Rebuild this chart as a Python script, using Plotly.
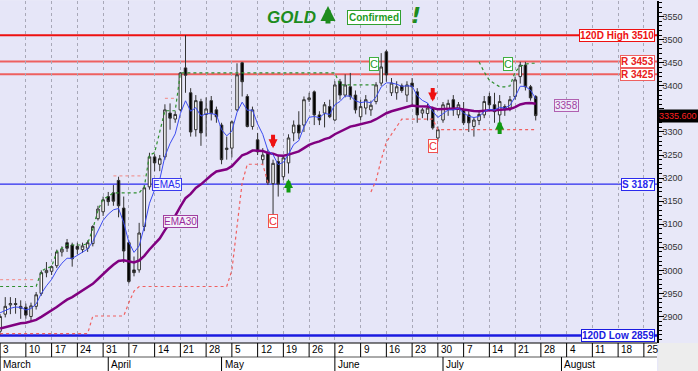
import plotly.graph_objects as go
import pandas as pd

# ---------------- data ----------------
dates = pd.bdate_range("2025-03-03", "2025-07-25").strftime("%Y-%m-%d").tolist()

opens = [2868, 2905, 2925, 2928, 2922, 2920, 2900, 2922, 2950, 2995,
         2998, 3010, 3040, 3060, 3055, 3052, 3045, 3048, 3058, 3112,
         3127, 3160, 3168, 3195, 3135, 3060, 3001, 3001, 3095, 3181,
         3246, 3230, 3246, 3341, 3328, 3348, 3439, 3385, 3305, 3366,
         3338, 3368, 3348, 3315, 3262, 3265, 3348, 3450, 3377, 3312,
         3283, 3240, 3254, 3188, 3236, 3203, 3233, 3298, 3315, 3315,
         3370, 3387, 3337, 3341, 3355, 3326, 3409, 3380, 3398, 3380,
         3333, 3352, 3348, 3366, 3406, 3474, 3385, 3385, 3400, 3380,
         3406, 3387, 3341, 3340, 3352, 3287, 3326, 3350, 3370, 3337,
         3348, 3337, 3312, 3325, 3337, 3377, 3359, 3337, 3355, 3352,
         3377, 3420, 3445, 3398, 3377]
highs = [2905, 2942, 2942, 2940, 2935, 2928, 2930, 2953, 3000, 3018,
         3010, 3045, 3052, 3068, 3060, 3060, 3060, 3065, 3098, 3140,
         3160, 3170, 3185, 3203, 3160, 3065, 3030, 3103, 3185, 3255,
         3252, 3250, 3360, 3362, 3345, 3430, 3510, 3395, 3380, 3372,
         3375, 3378, 3355, 3320, 3290, 3325, 3449, 3452, 3382, 3355,
         3298, 3265, 3262, 3240, 3250, 3250, 3295, 3325, 3345, 3377,
         3385, 3390, 3345, 3365, 3370, 3410, 3415, 3425, 3428, 3390,
         3370, 3380, 3368, 3408, 3471, 3478, 3417, 3410, 3405, 3410,
         3417, 3395, 3352, 3362, 3355, 3312, 3365, 3370, 3380, 3365,
         3365, 3345, 3332, 3345, 3378, 3385, 3385, 3380, 3360, 3378,
         3420, 3452, 3452, 3402, 3380]
lows = [2860, 2898, 2905, 2906, 2895, 2895, 2888, 2915, 2945, 2985,
        2990, 3005, 3030, 3040, 3008, 3035, 3038, 3040, 3052, 3108,
        3118, 3140, 3140, 3115, 3016, 2972, 2987, 2995, 3085, 3175,
        3215, 3215, 3240, 3305, 3320, 3345, 3385, 3290, 3290, 3270,
        3290, 3325, 3320, 3230, 3240, 3245, 3345, 3377, 3310, 3305,
        3250, 3230, 3185, 3122, 3160, 3195, 3210, 3280, 3285, 3300,
        3365, 3315, 3315, 3310, 3330, 3324, 3370, 3375, 3370, 3340,
        3325, 3338, 3335, 3360, 3400, 3409, 3378, 3370, 3385, 3365,
        3355, 3320, 3330, 3325, 3305, 3279, 3320, 3335, 3335, 3330,
        3315, 3300, 3290, 3315, 3330, 3350, 3320, 3315, 3335, 3345,
        3370, 3405, 3390, 3368, 3325]
closes = [2900, 2922, 2928, 2926, 2918, 2903, 2923, 2947, 2995, 3000,
          3008, 3040, 3046, 3048, 3025, 3046, 3053, 3060, 3095, 3133,
          3153, 3149, 3150, 3140, 3042, 2976, 2995, 3081, 3179, 3246,
          3233, 3242, 3348, 3330, 3338, 3428, 3423, 3300, 3368, 3298,
          3350, 3340, 3333, 3240, 3265, 3322, 3424, 3409, 3312, 3348,
          3257, 3250, 3190, 3232, 3187, 3244, 3287, 3315, 3298, 3370,
          3374, 3337, 3326, 3359, 3333, 3402, 3380, 3402, 3377, 3348,
          3355, 3370, 3358, 3402, 3441, 3424, 3406, 3398, 3390, 3402,
          3398, 3337, 3348, 3352, 3309, 3305, 3359, 3362, 3348, 3359,
          3320, 3320, 3326, 3338, 3366, 3359, 3344, 3366, 3348, 3370,
          3413, 3445, 3398, 3374, 3335.6]

ema5_seed = 2912
ema30_seed = 2872

red_stop = ([2863] * 18 + [2901] * 6 + [2901, 2930, 2955] + [2965] * 18
            + [3000, 3090, 3190] + [3230] * 4 + [3190] + [None] * 19
            + [3170, 3195, 3240, 3278, 3295, 3312] + [3328] * 7 + [3305] * 20)
green_stop = ([2965] * 8
              + [2998, 3005, 3008, 3040, 3048, 3055, 3055, 3055, 3055, 3058, 3090, 3130, 3155, 3160]
              + [3168] * 6 + [3181, 3250, 3255, 3300] + [3346] * 3 + [3428] * 31
              + [3402] * 8 + [None] * 19
              + [3452, 3430, 3412, 3404, 3398, 3398, 3400, 3430, 3442, 3447, 3449, 3449])
pink_stop = [2980] * 8 + [None] * 14 + [3205] * 7 + [None] * 3 + [3373] * 3 + [None] * 70

levels = [3510, 3453, 3425, 3187, 2859]
level_labels = ["120D High 3510", "R 3453", "R 3425", "S 3187", "120D Low 2859"]
level_colors = ["#ee1111", "#ee6060", "#ee6060", "#2a2aee", "#1a1ae0"]
level_text_colors = ["#ee1111", "#e82020", "#e82020", "#2a2aee", "#1a1ae0"]
level_widths = [2, 2, 2, 1.2, 2.5]

y_ticks = list(range(2900, 3551, 50))
y_tick_text = ["" if v == 3350 else str(v) for v in y_ticks]

last_price = 3335.6
ema30_label = 3358

green_c = [("2025-06-12", 3447), ("2025-07-18", 3447)]
red_c = [("2025-05-15", 3106), ("2025-06-27", 3270)]
down_arrows = [("2025-05-15", 3265), ("2025-06-27", 3366)]
up_arrows = [("2025-05-20", 3198), ("2025-07-16", 3325)]

axis_days = pd.bdate_range("2025-03-03", "2025-08-29")
month_names = ["March", "April", "May", "June", "July", "August"]

# ---------------- helpers ----------------
pos = {d.strftime("%Y-%m-%d"): i for i, d in enumerate(axis_days)}
x = [pos[d] for d in dates]


def ema(values, span, seed):
    a = 2.0 / (span + 1)
    out, prev = [], seed
    for v in values:
        prev = prev + a * (v - prev)
        out.append(prev)
    return out


ema5 = ema(closes, 5, ema5_seed)
ema30 = ema(closes, 30, ema30_seed)

mondays = [i for i, d in enumerate(axis_days) if d.weekday() == 0]
monday_days = [axis_days[i].day for i in mondays]
month_starts = []
seen = set()
for i, d in enumerate(axis_days):
    if d.month not in seen:
        seen.add(d.month)
        month_starts.append(i)

FONT = "Liberation Sans, Arial, sans-serif"
PH = 342.0  # plot height px
row1 = -14 / PH
row2 = -28 / PH

fig = go.Figure()

fig.add_trace(go.Scatter(x=x, y=pink_stop, mode="lines",
                         line=dict(color="#f09a9a", width=1.2, dash="dot"),
                         hoverinfo="skip", showlegend=False))
fig.add_trace(go.Scatter(x=x, y=red_stop, mode="lines",
                         line=dict(color="#f06060", width=1.2, dash="dot"),
                         hoverinfo="skip", showlegend=False))
fig.add_trace(go.Scatter(x=x, y=green_stop, mode="lines",
                         line=dict(color="#2f8f2f", width=1.2, dash="dot"),
                         hoverinfo="skip", showlegend=False))
fig.add_trace(go.Scatter(x=x, y=ema30, mode="lines",
                         line=dict(color="#800080", width=2.5),
                         hoverinfo="skip", showlegend=False))
fig.add_trace(go.Scatter(x=x, y=ema5, mode="lines",
                         line=dict(color="#3c4cf0", width=1),
                         hoverinfo="skip", showlegend=False))
fig.add_trace(go.Candlestick(
    x=x, open=opens, high=highs, low=lows, close=closes,
    increasing=dict(fillcolor="white", line=dict(color="#333333", width=1)),
    decreasing=dict(fillcolor="black", line=dict(color="#333333", width=1)),
    whiskerwidth=0, hoverinfo="skip", showlegend=False))

shapes = []
annotations = []

# level lines + labels
for v, lab, col, tcol, w in zip(levels, level_labels, level_colors, level_text_colors, level_widths):
    shapes.append(dict(type="line", xref="paper", x0=0, x1=1, yref="y", y0=v, y1=v,
                       line=dict(color=col, width=w), layer="below"))
    annotations.append(dict(xref="paper", x=0.997, xanchor="right", yref="y", y=v,
                            yanchor="middle", text="<b>%s</b>" % lab, showarrow=False,
                            font=dict(family=FONT, size=10, color=tcol),
                            bgcolor="white", bordercolor=col, borderwidth=1, borderpad=0))

# bottom axis area
shapes.append(dict(type="rect", xref="paper", x0=0, x1=1, yref="paper", y0=row2, y1=0,
                   fillcolor="white", line=dict(width=0), layer="above"))
shapes.append(dict(type="rect", xref="paper", x0=1.002, x1=1.07, yref="paper", y0=-0.2, y1=0,
                   fillcolor="#ededed", line=dict(width=0), layer="above"))
shapes.append(dict(type="line", xref="paper", x0=0, x1=1, yref="paper", y0=0, y1=0,
                   line=dict(color="black", width=1), layer="above"))
shapes.append(dict(type="line", xref="paper", x0=0, x1=1, yref="paper", y0=row1, y1=row1,
                   line=dict(color="#555555", width=1), layer="above"))
for i, dnum in zip(mondays, monday_days):
    shapes.append(dict(type="line", xref="x", x0=i, x1=i, yref="paper", y0=0, y1=row1,
                       line=dict(color="black", width=1), layer="above"))
    annotations.append(dict(xref="x", x=i, xanchor="left", xshift=1, yref="paper",
                            y=row1 / 2, yanchor="middle", text=str(dnum), showarrow=False,
                            font=dict(family=FONT, size=10, color="black")))
for i, name in zip(month_starts, month_names):
    shapes.append(dict(type="line", xref="x", x0=i, x1=i, yref="paper", y0=row1, y1=row2,
                       line=dict(color="black", width=1), layer="above"))
    annotations.append(dict(xref="x", x=i, xanchor="left", xshift=1, yref="paper",
                            y=(row1 + row2) / 2, yanchor="middle", text=name, showarrow=False,
                            font=dict(family=FONT, size=10, color="black")))

# title
annotations += [
    dict(xref="paper", yref="paper", x=291 / 657, y=(343 - 17) / PH, xanchor="center",
         yanchor="middle", text="<b><i>GOLD</i></b>",
         showarrow=False, font=dict(family=FONT, size=17, color="#1e8c1e")),
    dict(xref="paper", yref="paper", x=328 / 657, y=(343 - 6) / PH, ax=0, ay=19, text="",
         showarrow=True, arrowhead=2, arrowsize=0.6, arrowwidth=5, arrowcolor="#1e8c1e", standoff=0),
    dict(xref="paper", yref="paper", x=374 / 657, y=(343 - 18) / PH, xanchor="center",
         yanchor="middle", text="<b>Confirmed</b>",
         showarrow=False, font=dict(family=FONT, size=10, color="#1e9c1e"),
         bgcolor="white", bordercolor="#30a030", borderwidth=1, borderpad=1),
    dict(xref="paper", yref="paper", x=416 / 657, y=(343 - 15) / PH, xanchor="center",
         yanchor="middle", text="<b><i>!</i></b>",
         showarrow=False, font=dict(family="DejaVu Sans, sans-serif", size=22, color="#1e8c1e")),
]

# EMA labels
annotations += [
    dict(xref="x", yref="y", x=32.4, y=3187, text="EMA5", showarrow=False,
         font=dict(family=FONT, size=10, color="#2a2aee"), bgcolor="#f4f4ff",
         bordercolor="#3a3aee", borderwidth=1, borderpad=0),
    dict(xref="x", yref="y", x=35.1, y=3106, text="EMA30", showarrow=False,
         font=dict(family=FONT, size=10, color="#9a2a9a"), bgcolor="#f4f0fa",
         bordercolor="#a040a0", borderwidth=1, borderpad=0),
    dict(xref="x", yref="y", x=109.9, y=ema30_label, text=str(ema30_label), showarrow=False,
         font=dict(family=FONT, size=10, color="#a040a0"), bgcolor="#eeeafa",
         bordercolor="#b060b0", borderwidth=1, borderpad=0),
    dict(xref="paper", yref="y", x=1.0, xanchor="left", y=last_price, yanchor="middle",
         text="%.3f" % last_price,
         showarrow=False, font=dict(family=FONT, size=9, color="#ff2020"), bgcolor="black",
         borderpad=1),
]

for d, v in green_c:
    annotations.append(dict(xref="x", yref="y", x=pos[d], y=v, text="C", showarrow=False, xshift=-2,
                            font=dict(family=FONT, size=11, color="#2a9a2a"), bgcolor="white",
                            bordercolor="#40b040", borderwidth=1, borderpad=0))
for d, v in red_c:
    annotations.append(dict(xref="x", yref="y", x=pos[d], y=v, text="C", showarrow=False,
                            font=dict(family=FONT, size=11, color="#ee3030"), bgcolor="white",
                            bordercolor="#f05050", borderwidth=1, borderpad=0))
for d, v in down_arrows:
    annotations.append(dict(xref="x", yref="y", x=pos[d], y=v, ax=0, ay=-15, text="",
                            showarrow=True, arrowhead=2, arrowsize=0.45, arrowwidth=4,
                            arrowcolor="#ee1111", standoff=0))
for d, v in up_arrows:
    annotations.append(dict(xref="x", yref="y", x=pos[d], y=v, ax=0, ay=15, text="",
                            showarrow=True, arrowhead=2, arrowsize=0.45, arrowwidth=4,
                            arrowcolor="#119911", standoff=0))

fig.update_layout(
    width=698, height=371,
    margin=dict(l=0, r=41, t=1, b=28),
    paper_bgcolor="#e8e8f8",
    plot_bgcolor="#e6e6f8",
    shapes=shapes,
    annotations=annotations,
    showlegend=False,
    xaxis=dict(range=[-0.02, 127.55], tickvals=mondays, showticklabels=False, ticks="",
               showgrid=True, gridcolor="#a8a8b8", griddash="dot", gridwidth=1,
               zeroline=False, rangeslider=dict(visible=False), showline=False,
               automargin=False, fixedrange=True),
    yaxis=dict(range=[2842.5, 3584], side="right", tickvals=y_ticks, ticktext=y_tick_text,
               showgrid=False, zeroline=False, showline=True, linecolor="black", linewidth=1.5,
               ticks="outside", ticklen=5, tickcolor="black", tickwidth=1,
               minor=dict(dtick=10, ticklen=3, tickcolor="black", ticks="outside", showgrid=False),
               tickfont=dict(family=FONT, size=9, color="#333333"), ticklabelstandoff=-3,
               automargin=False, fixedrange=True),
)

fig.write_html("out.html", config={"displayModeBar": False},
               post_script="document.body.style.margin='0';document.body.style.overflow='hidden';")
